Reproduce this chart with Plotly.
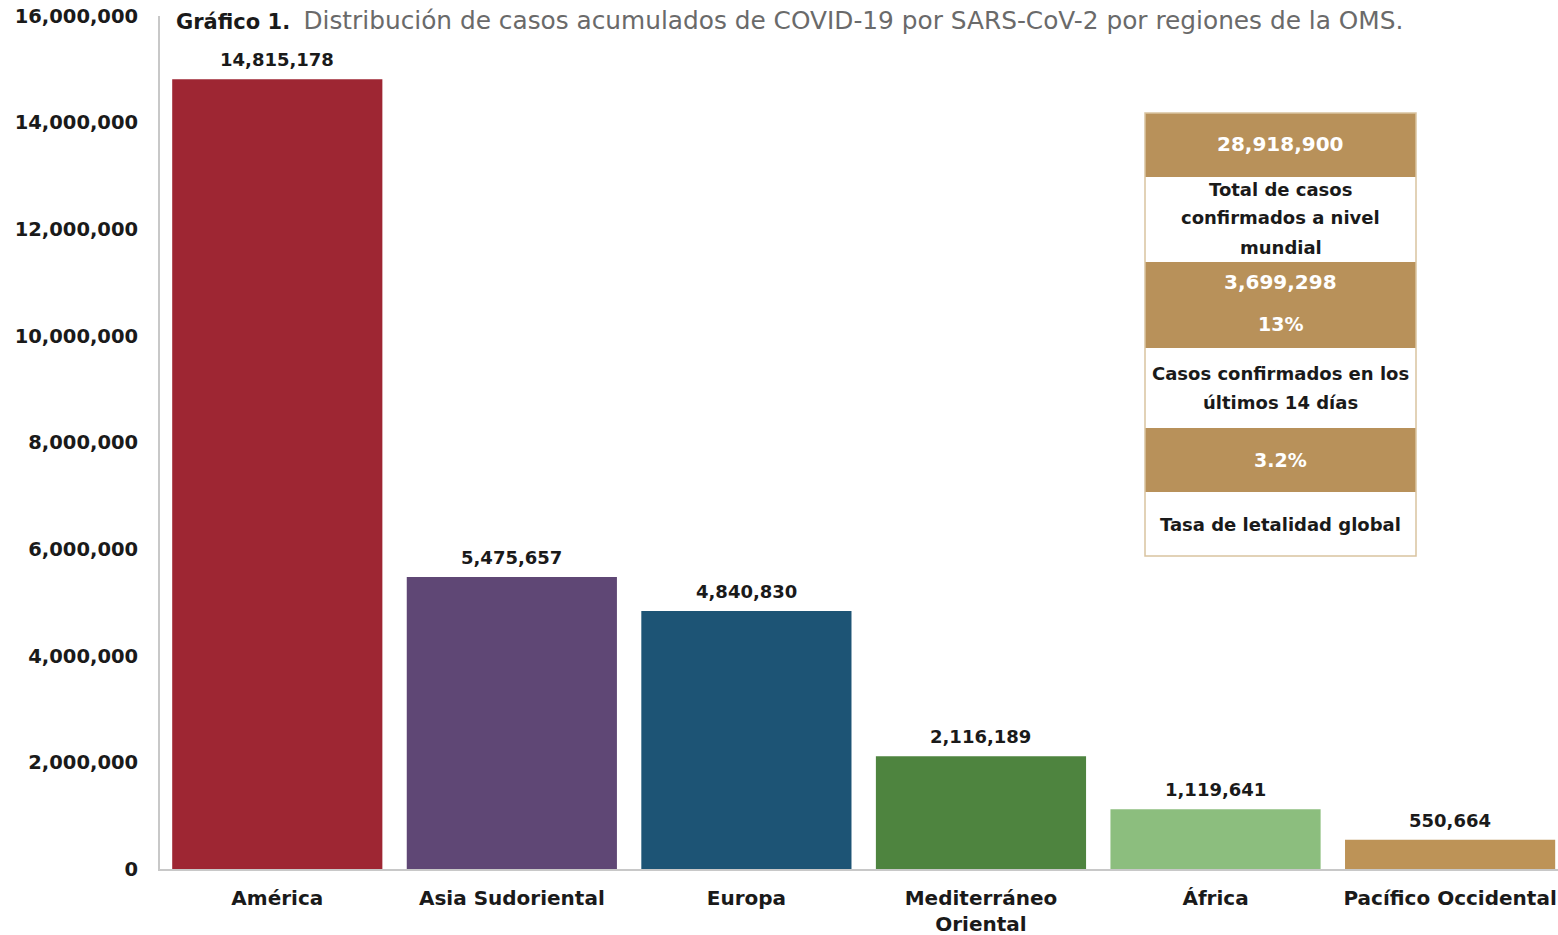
import plotly.graph_objects as go

regions = ["América", "Asia Sudoriental", "Europa", "Mediterráneo<br>Oriental", "África", "Pacífico Occidental"]
cases = [14815178, 5475657, 4840830, 2116189, 1119641, 550664]
colors = ["#9E2633", "#5F4775", "#1D5475", "#4E843F", "#8CBE7E", "#BD9357"]
tick_vals = [0, 2000000, 4000000, 6000000, 8000000, 10000000, 12000000, 14000000, 16000000]

box_total = "28,918,900"
box_total_label = ["Total de casos", "confirmados a nivel", "mundial"]
box_14d = "3,699,298"
box_14d_pct = "13%"
box_14d_label = ["Casos confirmados en los", "últimos 14 días"]
box_cfr = "3.2%"
box_cfr_label = ["Tasa de letalidad global"]

W, H = 1558, 935
L, R, T, B = 160, 0, 16, 66
FONT = "DejaVu Sans"
GOLD = "#B8915A"
DARK = "#1a1a1a"


def px(x):
    return (x - L) / (W - L - R)


def py(y):
    return (H - B - y) / (H - T - B)


xs = list(range(len(regions)))
fig = go.Figure(
    go.Bar(
        x=xs,
        y=cases,
        marker=dict(color=colors, line=dict(width=0)),
        hoverinfo="skip",
    )
)

for xi, v in zip(xs, cases):
    fig.add_annotation(x=xi, y=v, xref="x", yref="y", text=f"<b>{v:,}</b>",
                       showarrow=False, yanchor="bottom", yshift=7,
                       font=dict(family=FONT, size=18, color=DARK))

fig.update_layout(
    width=W,
    height=H,
    margin=dict(l=L, r=R, t=T, b=B),
    paper_bgcolor="white",
    plot_bgcolor="white",
    showlegend=False,
    bargap=0.104,
    font=dict(family=FONT, color=DARK),
)

fig.update_xaxes(
    tickmode="array",
    tickvals=xs,
    ticktext=[f"<b>{r}</b>" for r in regions],
    range=[-0.5, 5.46],
    showline=True,
    linecolor="#C8C8C8",
    linewidth=2,
    showgrid=False,
    ticks="",
    tickfont=dict(family=FONT, size=20, color=DARK),
    ticklabelstandoff=10,
)

fig.update_yaxes(
    range=[0, 16000000],
    tickmode="array",
    tickvals=tick_vals,
    ticktext=[f"<b>{v:,}</b>" for v in tick_vals],
    showline=True,
    linecolor="#C8C8C8",
    linewidth=2,
    showgrid=False,
    zeroline=False,
    ticks="",
    tickfont=dict(family=FONT, size=19.5, color=DARK),
    ticklabelstandoff=16,
)

# Title
fig.add_annotation(
    xref="paper", yref="paper", x=px(174), y=py(20), xanchor="left", yanchor="middle",
    text="<b>Gráfico 1.</b>  <span style='color:#6a6a6a;font-size:24.8px'>Distribución de casos acumulados de COVID-19 por SARS-CoV-2 por regiones de la OMS.</span>",
    showarrow=False, font=dict(family=FONT, size=21, color=DARK),
)

# Info box
bx0, bx1 = 1145, 1416
sections = [
    (113, 177, GOLD),
    (177, 262, "white"),
    (262, 348, GOLD),
    (348, 428, "white"),
    (428, 492, GOLD),
    (492, 556, "white"),
]
for y0, y1, c in sections:
    fig.add_shape(type="rect", xref="paper", yref="paper",
                  x0=px(bx0), x1=px(bx1), y0=py(y1), y1=py(y0),
                  fillcolor=c, line=dict(width=0), layer="above")
fig.add_shape(type="rect", xref="paper", yref="paper",
              x0=px(bx0), x1=px(bx1), y0=py(556), y1=py(113),
              fillcolor="rgba(0,0,0,0)", line=dict(width=1.5, color="#D9C3A0"), layer="above")

cx = px((bx0 + bx1) / 2)
box_texts = [
    (144, box_total, "white", 20),
    (282, box_14d, "white", 20),
    (324, box_14d_pct, "white", 19),
    (460, box_cfr, "white", 19),
]
for yc, lines in [(218, box_total_label), (388, box_14d_label), (524, box_cfr_label)]:
    n = len(lines)
    for i, t in enumerate(lines):
        box_texts.append((yc + (i - (n - 1) / 2) * 29, t, DARK, 18))

for y, t, c, s in box_texts:
    fig.add_annotation(xref="paper", yref="paper", x=cx, y=py(y), xanchor="center", yanchor="middle",
                       text=f"<b>{t}</b>", showarrow=False,
                       font=dict(family=FONT, size=s, color=c), align="center")

fig.write_html("out.html", config={"displayModeBar": False},
               post_script="document.body.style.margin='0px';")
